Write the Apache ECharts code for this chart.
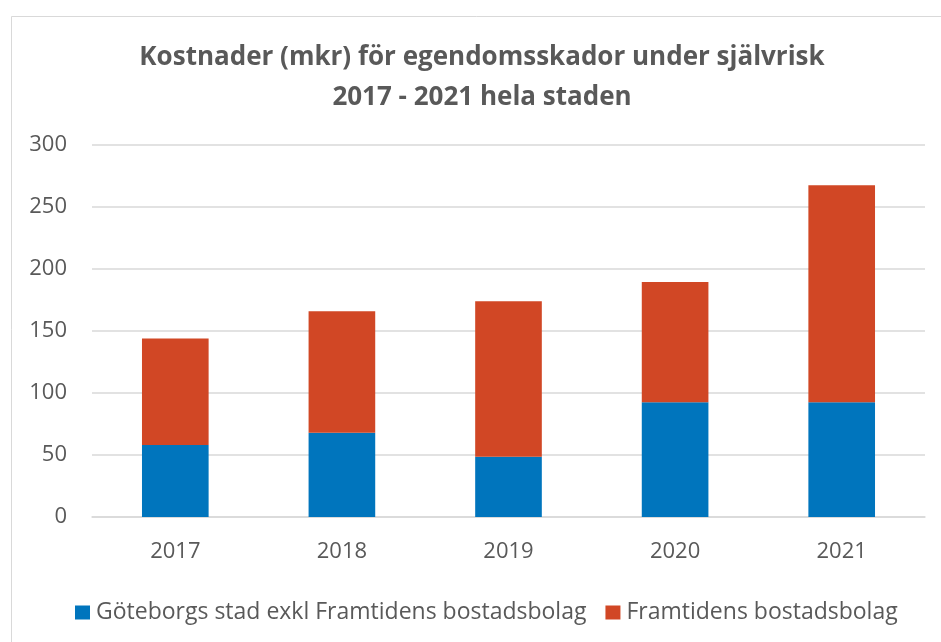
<!DOCTYPE html>
<html>
<head>
<meta charset="utf-8">
<script src="https://cdn.jsdelivr.net/npm/echarts@6/dist/echarts.min.js"></script>
<style>html,body{margin:0;padding:0;background:#fff}#c{width:941px;height:642px}</style>
</head>
<body>
<div id="c"></div>
<script>
const titleLines = ['Kostnader (mkr) för egendomsskador under självrisk', '2017 - 2021 hela staden'];
const categories = ['2017', '2018', '2019', '2020', '2021'];
const seriesNames = ['Göteborgs stad exkl Framtidens bostadsbolag', 'Framtidens bostadsbolag'];
const goteborg = [58, 68, 48.5, 92.5, 92.5];
const framtiden = [86, 98, 125.5, 97, 175];
const yTicks = [0, 50, 100, 150, 200, 250, 300];

const FONT = '"Open Sans", sans-serif';
const chart = echarts.init(document.getElementById('c'), null, {renderer: 'canvas'});
chart.setOption({
  backgroundColor: '#fff',
  animation: false,
  graphic: [{
    type: 'rect', left: 9, top: 14, shape: {width: 940, height: 640},
    style: {fill: 'none', stroke: '#D9D9D9', lineWidth: 1}, silent: true
  }],
  title: {
    text: titleLines.join('\n'),
    left: 482, top: 33, textAlign: 'center',
    padding: [5, 0, 5, 0],
    textStyle: {fontFamily: FONT, fontSize: 26, fontWeight: 'bold', color: '#595959', lineHeight: 40}
  },
  legend: {
    top: 596, left: 70,
    itemWidth: 15, itemHeight: 14, itemGap: 19,
    icon: 'rect',
    textStyle: {fontFamily: FONT, fontSize: 23, color: '#595959', padding: [0, 0, 0, 1]},
    data: seriesNames
  },
  grid: {left: 92, right: 16, top: 145, bottom: 125, containLabel: false},
  xAxis: {
    type: 'category', data: categories,
    axisLine: {show: true, lineStyle: {color: '#D9D9D9', width: 1.5}},
    axisTick: {show: false},
    axisLabel: {fontFamily: FONT, fontSize: 22, color: '#595959', margin: 24}
  },
  yAxis: {
    type: 'value', min: yTicks[0], max: yTicks[yTicks.length - 1], interval: 50,
    axisLine: {show: false}, axisTick: {show: false},
    splitLine: {lineStyle: {color: '#D9D9D9', width: 1.5}},
    axisLabel: {fontFamily: FONT, fontSize: 22, color: '#595959', margin: 25}
  },
  series: [
    {name: seriesNames[0], type: 'bar', stack: 't', data: goteborg, barWidth: '40%',
     itemStyle: {color: '#0075BD'}},
    {name: seriesNames[1], type: 'bar', stack: 't', data: framtiden, barWidth: '40%',
     itemStyle: {color: '#D14725'}}
  ]
});
</script>
</body>
</html>
